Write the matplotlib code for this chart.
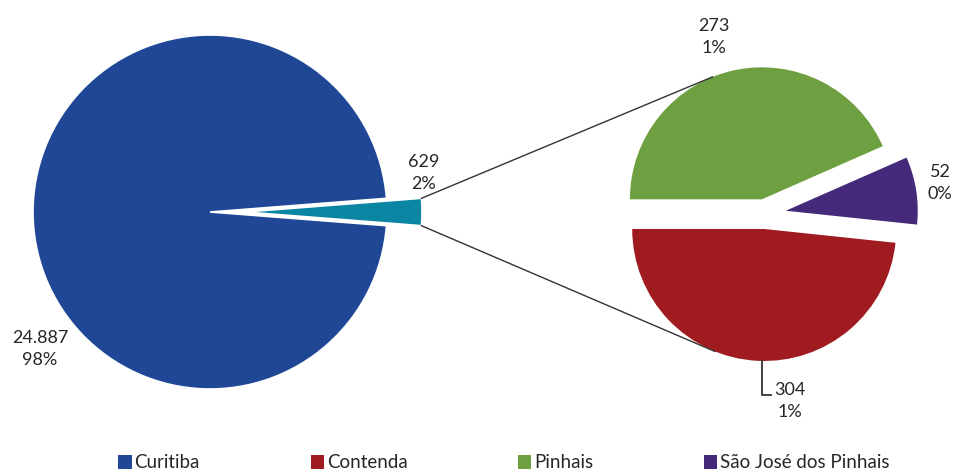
import matplotlib
matplotlib.use("Agg")
import matplotlib.pyplot as plt
from matplotlib.patches import Patch
import numpy as np

plt.rcParams['font.family'] = ['Lato', 'DejaVu Sans']

# Data
main_labels = ["Curitiba", "Outros"]
main_values = [24887, 629]
sub_labels = ["Pinhais", "São José dos Pinhais", "Contenda"]
sub_values = [273, 52, 304]
legend_labels = ["Curitiba", "Contenda", "Pinhais", "São José dos Pinhais"]

colors = {
    "Curitiba": "#1F4796",
    "Outros": "#0A86A3",
    "Contenda": "#A01B20",
    "Pinhais": "#6EA041",
    "São José dos Pinhais": "#45297A",
}

total = sum(main_values)
W, H = 957, 472
fig = plt.figure(figsize=(W / 100, H / 100), dpi=100)
ax = fig.add_axes([0, 0, 1, 1])

def fmt(v):
    return f"{v:,}".replace(",", ".")

def pct(v):
    return f"{round(100 * v / total)}%"

txt_color = "#262626"
fs = 13

# Main pie: the "other" slice is centred on the horizontal axis and pulled out
other_frac = main_values[1] / total
main_wedges, _ = ax.pie(
    main_values,
    colors=[colors[n] for n in main_labels],
    startangle=180 * other_frac,
    center=(210, H - 212), radius=177,
    explode=[0, 35],
    wedgeprops=dict(edgecolor="white", linewidth=1.2),
    frame=True,
)

# Secondary pie with the breakdown of the other slice
sub_wedges, _ = ax.pie(
    sub_values,
    colors=[colors[n] for n in sub_labels],
    startangle=180, counterclock=False,
    center=(765, H - 214), radius=132,
    explode=[15, 21, 15],
    frame=True,
)
ax.set_xlim(0, W)
ax.set_ylim(0, H)
ax.set_aspect('equal')
ax.axis('off')

# Connector lines from the pulled-out slice to the secondary pie
ow = main_wedges[1]
cx, cy = ow.center
t1, t2 = np.deg2rad(ow.theta1), np.deg2rad(ow.theta2)
top_src = (cx + ow.r * np.cos(t2), cy + ow.r * np.sin(t2))
bot_src = (cx + ow.r * np.cos(t1), cy + ow.r * np.sin(t1))

gw, rw = sub_wedges[0], sub_wedges[2]
a = np.deg2rad(112)
top_dst = (gw.center[0] + gw.r * np.cos(a), gw.center[1] + gw.r * np.sin(a))
bot_dst = (rw.center[0] + rw.r * np.cos(-a), rw.center[1] + rw.r * np.sin(-a))
ax.plot([top_src[0], top_dst[0]], [top_src[1], top_dst[1]], color="#333333", lw=1)
ax.plot([bot_src[0], bot_dst[0]], [bot_src[1], bot_dst[1]], color="#333333", lw=1)

# Data labels
def label(x, y, v, **kw):
    ax.text(x, H - y, f"{fmt(v)}\n{pct(v)}", ha="center", va="center",
            fontsize=fs, color=txt_color, multialignment="center",
            linespacing=1.5, **kw)

label(40, 349, main_values[0])
label(424, 173, main_values[1])
label(714, 37, sub_values[0])
label(940, 183, sub_values[1])
label(790, 401, sub_values[2])

# Leader line for the Contenda label
bx = rw.center[0] - 2
by = rw.center[1] - rw.r
ax.plot([bx, bx, bx + 9], [by, H - 395, H - 395], color="#333333", lw=1.3)

# Legend
handles = [Patch(facecolor=colors[n], edgecolor="none") for n in legend_labels]
fig.legend(handles, legend_labels, loc="center", ncol=4,
           bbox_to_anchor=(504 / W, 9 / H), frameon=False,
           fontsize=13.5, handlelength=0.7, handleheight=0.7,
           handletextpad=0.16, columnspacing=5.9, labelcolor=txt_color)

fig.savefig("out.png", dpi=100)
